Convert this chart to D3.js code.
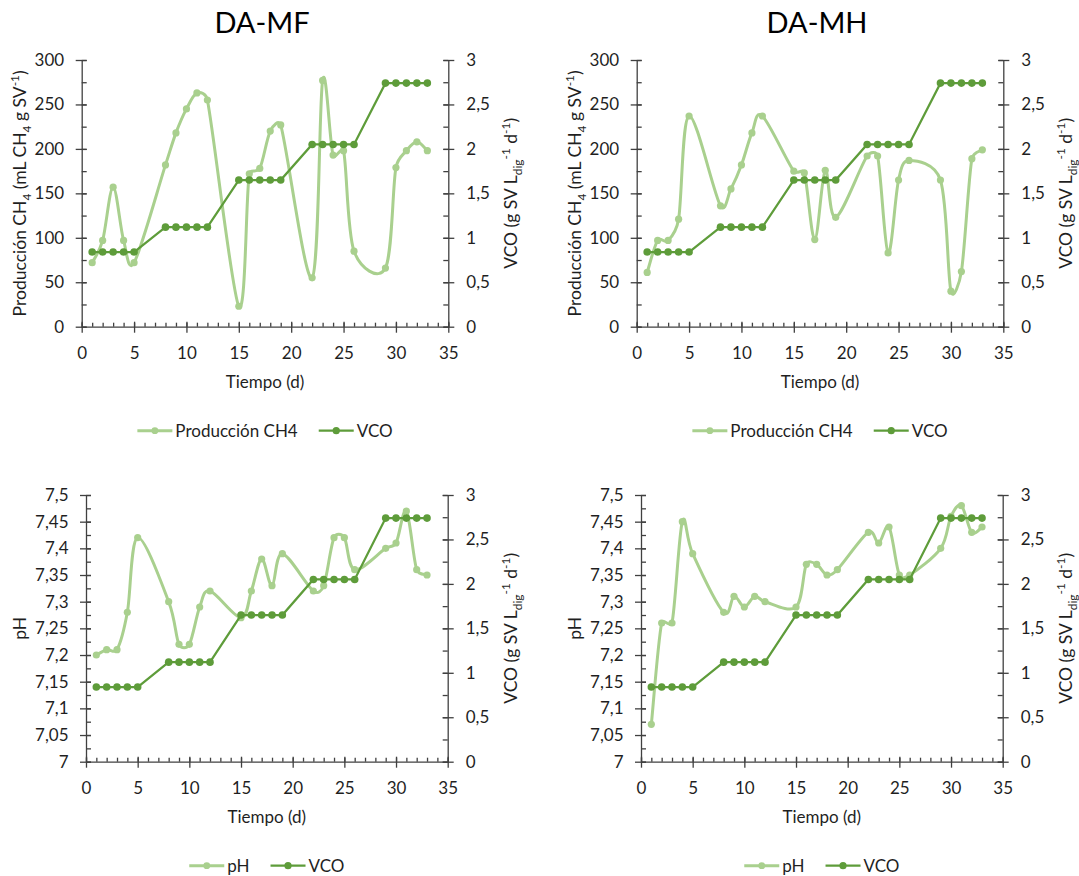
<!DOCTYPE html>
<html>
<head>
<meta charset="utf-8">
<script src="https://cdn.jsdelivr.net/npm/d3@7"></script>
<style>
  html, body { margin: 0; padding: 0; background: #ffffff; }
  svg { display: block; font-family: Lato, "Open Sans", sans-serif; }
</style>
</head>
<body>
<svg id="chart" width="1079" height="876"></svg>
<script>
// Sampling days (d)
const days = [1, 2, 3, 4, 5, 8, 9, 10, 11, 12, 15, 16, 17, 18, 19, 22, 23, 24, 25, 26, 29, 30, 31, 32, 33];

// Organic loading rate, VCO (g SV L_dig^-1 d^-1) — same schedule for both digesters
const vco = [0.84, 0.84, 0.84, 0.84, 0.84, 1.12, 1.12, 1.12, 1.12, 1.12, 1.65, 1.65, 1.65, 1.65, 1.65,
             2.05, 2.05, 2.05, 2.05, 2.05, 2.74, 2.74, 2.74, 2.74, 2.74];

// Methane production (mL CH4 g SV^-1)
const ch4MF = [72, 97, 157, 97, 72, 182, 218, 245, 263, 255, 23, 172, 178, 220, 227,
               55, 277, 193, 198, 85, 66, 179, 198, 208, 198];
const ch4MH = [61, 97, 97, 121, 237, 136, 155, 182, 218, 237, 175, 173, 98, 176, 123,
               192, 192, 83, 165, 187, 165, 40, 62, 189, 199];

// pH
const phMF = [7.20, 7.21, 7.21, 7.28, 7.42, 7.30, 7.22, 7.22, 7.29, 7.32, 7.27, 7.32, 7.38, 7.33, 7.39,
              7.32, 7.33, 7.42, 7.42, 7.36, 7.40, 7.41, 7.47, 7.36, 7.35];
const phMH = [7.07, 7.26, 7.26, 7.45, 7.39, 7.28, 7.31, 7.29, 7.31, 7.30, 7.29, 7.37, 7.37, 7.35, 7.36,
              7.43, 7.41, 7.44, 7.35, 7.35, 7.40, 7.46, 7.48, 7.43, 7.44];

// Axis ticks
const xTicks = [0, 5, 10, 15, 20, 25, 30, 35];
const ch4Ticks = [0, 50, 100, 150, 200, 250, 300];
const phTicks = [7, 7.05, 7.1, 7.15, 7.2, 7.25, 7.3, 7.35, 7.4, 7.45, 7.5];
const vcoTicks = [0, 0.5, 1, 1.5, 2, 2.5, 3];

const LIGHT = "#a9d08e";
const DARK = "#5e9c3a";
const AXIS = "#404040";
const TEXT = "#1f1f1f";
const FONT = 17;

const svg = d3.select("#chart");

const fmt = v => String(+v.toFixed(3)).replace(".", ",");

// Spreadsheet-style smoothed line: cubic Bézier segments whose control
// points follow the neighbouring chord, limited to half the segment length.
function SmoothCurve(context) { this._context = context; }
SmoothCurve.prototype = {
  areaStart() {}, areaEnd() {},
  lineStart() { this._pts = []; },
  point(x, y) { this._pts.push([+x, +y]); },
  lineEnd() {
    const c = this._context, p = this._pts, n = p.length;
    if (!n) return;
    const dist = (a, b) => Math.hypot(b[0] - a[0], b[1] - a[1]);
    c.moveTo(p[0][0], p[0][1]);
    for (let i = 0; i < n - 1; i++) {
      const p0 = p[Math.max(i - 1, 0)], p1 = p[i], p2 = p[i + 1], p3 = p[Math.min(i + 2, n - 1)];
      const d02 = dist(p0, p2), d12 = dist(p1, p2), d13 = dist(p1, p3);
      const f = (d02 / 6 < d12 / 2 || d02 === 0) ? 1 / 6 : d12 / (2 * d02);
      const g = (d13 / 6 < d12 / 2 || d13 === 0) ? 1 / 6 : d12 / (2 * d13);
      c.bezierCurveTo(
        p1[0] + f * (p2[0] - p0[0]), p1[1] + f * (p2[1] - p0[1]),
        p2[0] - g * (p3[0] - p1[0]), p2[1] - g * (p3[1] - p1[1]),
        p2[0], p2[1]);
    }
  }
};
const curveSmooth = ctx => new SmoothCurve(ctx);

const ch4Title = [["Producción CH", "n"], ["4", "sub"], [" (mL CH", "n"], ["4", "sub"], [" g SV", "n"], ["-1", "sup"], [")", "n"]];
const phTitle = [["pH", "n"]];
const vcoTitle = [["VCO (g SV L", "n"], ["dig", "sub"], ["-1", "sup"], [" d", "n"], ["-1", "sup"], [")", "n"]];

const panels = [
  { ox: 0,   top: 60,  bottom: 326.7, left: 81.7, right: 448.3, title: "DA-MF", values: ch4MF,
    yDomain: [0, 300], yTicks: ch4Ticks, yMinor: d3.range(0, 300.01, 25), yTitle: ch4Title, legend: "Producción CH4" },
  { ox: 555, top: 60,  bottom: 326.7, left: 81.7, right: 448.3, title: "DA-MH", values: ch4MH,
    yDomain: [0, 300], yTicks: ch4Ticks, yMinor: d3.range(0, 300.01, 25), yTitle: ch4Title, legend: "Producción CH4" },
  { ox: 0,   top: 495, bottom: 761.7, left: 86, right: 447.7, title: null, values: phMF,
    yDomain: [7, 7.5], yTicks: phTicks, yMinor: d3.range(0, 20.5).map(i => 7 + i * 0.025), yTitle: phTitle, legend: "pH" },
  { ox: 555, top: 495, bottom: 761.7, left: 86, right: 447.7, title: null, values: phMH,
    yDomain: [7, 7.5], yTicks: phTicks, yMinor: d3.range(0, 20.5).map(i => 7 + i * 0.025), yTitle: phTitle, legend: "pH" }
];

// Text with subscript / superscript runs
function richText(sel, parts, size) {
  let shift = 0;
  parts.forEach(([str, kind]) => {
    const target = kind === "sub" ? 0.28 * size : kind === "sup" ? -0.38 * size : 0;
    const t = sel.append("tspan").text(str).attr("dy", target - shift);
    if (kind !== "n") t.attr("font-size", size * 0.68);
    shift = target;
  });
}

function styleAxis(sel) {
  sel.attr("font-family", null).attr("font-size", null);
  sel.selectAll(".domain").attr("stroke", AXIS).attr("stroke-width", 1.3);
  sel.selectAll(".tick line").attr("stroke", AXIS).attr("stroke-width", 1.3);
  sel.selectAll(".tick text").attr("fill", TEXT).attr("font-size", FONT);
}

panels.forEach(p => {
  const g = svg.append("g").attr("transform", `translate(${p.ox},0)`);
  const x = d3.scaleLinear([0, 35], [p.left, p.right]);
  const yL = d3.scaleLinear(p.yDomain, [p.bottom, p.top]);
  const yR = d3.scaleLinear([0, 3], [p.bottom, p.top]);

  // minor ticks (inside)
  g.append("g").attr("transform", `translate(${p.left},0)`)
    .call(d3.axisLeft(yL).tickValues(p.yMinor).tickSize(-5).tickFormat(""))
    .call(s => s.select(".domain").remove()).call(styleAxis);
  g.append("g").attr("transform", `translate(${p.right},0)`)
    .call(d3.axisRight(yR).tickValues(d3.range(0, 3.01, 0.25)).tickSize(-5).tickFormat(""))
    .call(s => s.select(".domain").remove()).call(styleAxis);
  g.append("g").attr("transform", `translate(0,${p.bottom})`)
    .call(d3.axisBottom(x).tickValues(d3.range(0, 36)).tickSize(-4).tickFormat(""))
    .call(s => s.select(".domain").remove()).call(styleAxis);

  // major ticks (cross) with labels
  g.append("g").attr("transform", `translate(${p.left},0)`)
    .call(d3.axisLeft(yL).tickValues(p.yTicks).tickSizeInner(6).tickSizeOuter(0).tickPadding(11.5).tickFormat(fmt))
    .call(styleAxis).call(s => s.selectAll(".tick line").attr("x1", 5));
  g.append("g").attr("transform", `translate(${p.right},0)`)
    .call(d3.axisRight(yR).tickValues(vcoTicks).tickSizeInner(6).tickSizeOuter(0).tickPadding(12).tickFormat(fmt))
    .call(styleAxis).call(s => s.selectAll(".tick line").attr("x1", -5));
  g.append("g").attr("transform", `translate(0,${p.bottom})`)
    .call(d3.axisBottom(x).tickValues(xTicks).tickSizeInner(6).tickSizeOuter(0).tickPadding(14).tickFormat(fmt))
    .call(styleAxis).call(s => s.selectAll(".tick line").attr("y1", -5));

  // series
  const lightData = d3.zip(days, p.values);
  const darkData = d3.zip(days, vco);

  const smooth = d3.line().x(d => x(d[0])).y(d => yL(d[1])).curve(curveSmooth);
  const straight = d3.line().x(d => x(d[0])).y(d => yR(d[1]));

  g.append("path").datum(lightData).attr("d", smooth)
    .attr("fill", "none").attr("stroke", LIGHT).attr("stroke-width", 3);
  g.append("g").selectAll("circle").data(lightData).join("circle")
    .attr("cx", d => x(d[0])).attr("cy", d => yL(d[1])).attr("r", 3.6).attr("fill", LIGHT);

  g.append("path").datum(darkData).attr("d", straight)
    .attr("fill", "none").attr("stroke", DARK).attr("stroke-width", 2.25);
  g.append("g").selectAll("circle").data(darkData).join("circle")
    .attr("cx", d => x(d[0])).attr("cy", d => yR(d[1])).attr("r", 3.8).attr("fill", DARK);

  const cx = (p.left + p.right) / 2;

  // chart title
  if (p.title) {
    g.append("text").attr("x", 262).attr("y", 33).attr("text-anchor", "middle")
      .attr("font-size", 29).attr("fill", "#000").text(p.title);
  }

  // axis titles
  g.append("text").attr("x", cx).attr("y", p.bottom + 61).attr("text-anchor", "middle")
    .attr("font-size", FONT).attr("fill", TEXT).text("Tiempo (d)");

  const lt = g.append("text").attr("text-anchor", "middle").attr("font-size", 17.5).attr("fill", TEXT)
    .attr("transform", `translate(26,${(p.top + p.bottom) / 2}) rotate(-90)`);
  richText(lt, p.yTitle, 17.5);

  const rt = g.append("text").attr("text-anchor", "middle").attr("font-size", 17.5).attr("fill", TEXT)
    .attr("transform", `translate(517,${(p.top + p.bottom) / 2}) rotate(-90)`);
  richText(rt, vcoTitle, 17.5);

  // legend
  const lg = g.append("g");
  let pos = 0;
  [{ label: p.legend, color: LIGHT, w: 3, r: 3.4 }, { label: "VCO", color: DARK, w: 2.25, r: 3.6 }].forEach(it => {
    lg.append("line").attr("x1", pos).attr("x2", pos + 35).attr("y1", 0).attr("y2", 0)
      .attr("stroke", it.color).attr("stroke-width", it.w);
    lg.append("circle").attr("cx", pos + 17.5).attr("cy", 0).attr("r", it.r).attr("fill", it.color);
    const t = lg.append("text").attr("x", pos + 38).attr("dy", "0.35em")
      .attr("font-size", FONT).attr("fill", TEXT).text(it.label);
    pos += 38 + t.node().getComputedTextLength() + 21;
  });
  const total = pos - 21;
  lg.attr("transform", `translate(${cx - total / 2},${p.bottom + 104})`);
});
</script>
</body>
</html>
